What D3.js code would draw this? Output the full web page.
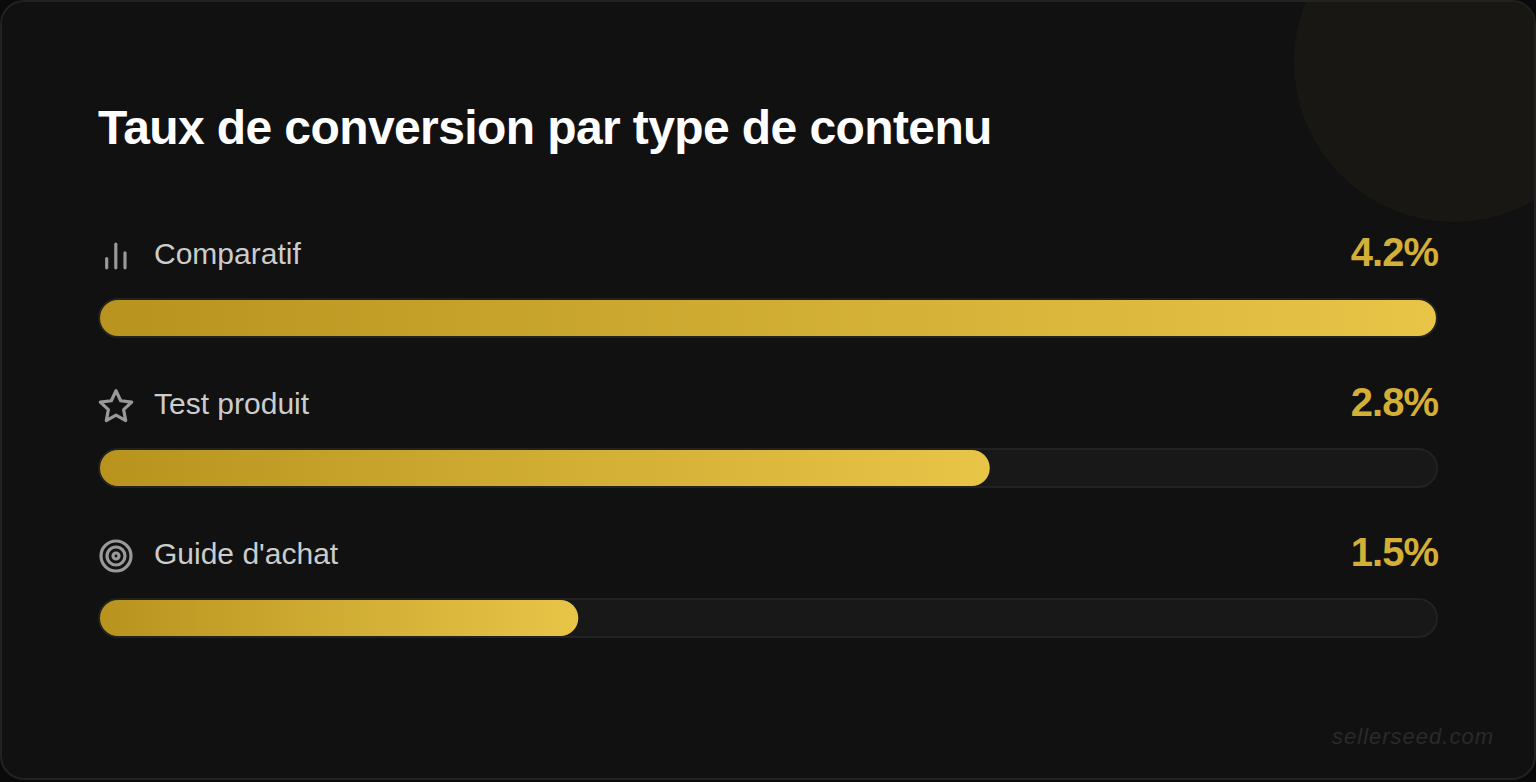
<!DOCTYPE html>
<html lang="fr">
<head>
<meta charset="utf-8">
<script src="https://cdn.jsdelivr.net/npm/d3@7"></script>
<style>
html,body{margin:0;padding:0;background:#0a0a0a;overflow:hidden}
svg{display:block}
text{font-family:"Liberation Sans",Arial,sans-serif}
</style>
</head>
<body>
<svg id="c" width="1536" height="782"></svg>
<script>
const titleText = "Taux de conversion par type de contenu";
const categories = ["Comparatif", "Test produit", "Guide d'achat"];
const valueLabels = ["4.2%", "2.8%", "1.5%"];
const fillPercents = [100, 66.6, 35.8];
const icons = ["bars", "star", "target"];
const watermark = "sellerseed.com";

const svg = d3.select("#c");
const defs = svg.append("defs");
const grad = defs.append("linearGradient").attr("id", "g").attr("x1", 0).attr("x2", 1).attr("y1", 0).attr("y2", 0);
grad.append("stop").attr("offset", "0%").attr("stop-color", "#b8941f");
grad.append("stop").attr("offset", "100%").attr("stop-color", "#e8c547");
defs.append("clipPath").attr("id", "card").append("rect")
  .attr("x", 2).attr("y", 2).attr("width", 1532).attr("height", 776).attr("rx", 22);

svg.append("rect").attr("x", 1).attr("y", 1).attr("width", 1534).attr("height", 778).attr("rx", 23)
  .attr("fill", "#111111").attr("stroke", "#222222").attr("stroke-width", 2);
svg.append("circle").attr("clip-path", "url(#card)").attr("cx", 1454).attr("cy", 62).attr("r", 160).attr("fill", "#181713");

svg.append("text").attr("x", 98).attr("y", 144).text(titleText)
  .attr("font-size", 48).attr("font-weight", 700).attr("letter-spacing", -0.6).attr("fill", "#ffffff");

const x = d3.scaleLinear().domain([0, 100]).range([0, 1336]);
const y = d3.scaleBand().domain(categories).range([226, 676]).paddingInner(0);

const rows = svg.selectAll("g.row").data(categories).join("g").attr("class", "row")
  .attr("transform", d => `translate(0,${y(d)})`);

rows.append("text").attr("x", 154).attr("y", 38).text(d => d)
  .attr("font-size", 30).attr("fill", "#cccccc");
rows.append("text").attr("x", 1438).attr("y", 40).attr("text-anchor", "end").text((d, i) => valueLabels[i])
  .attr("font-size", 40).attr("font-weight", 700).attr("letter-spacing", -1).attr("fill", "#d4af37");
rows.append("rect").attr("x", 99).attr("y", 73).attr("width", 1338).attr("height", 38).attr("rx", 19)
  .attr("fill", "#181818").attr("stroke", "#222222").attr("stroke-width", 2);
rows.append("rect").attr("x", 100).attr("y", 74).attr("height", 36).attr("rx", 18)
  .attr("width", (d, i) => x(fillPercents[i])).attr("fill", "url(#g)");

const ic = rows.append("g").attr("fill", "none").attr("stroke", "#999999").attr("stroke-width", 3.2).attr("stroke-linecap", "round").attr("stroke-linejoin", "round");
ic.each(function (d, i) {
  const g = d3.select(this);
  if (icons[i] === "bars") {
    [[106.7, 32.7, 41.8], [115.8, 18.2, 41.8], [125, 26.8, 41.8]].forEach(l => g.append("line")
      .attr("x1", l[0]).attr("x2", l[0]).attr("y1", l[1]).attr("y2", l[2]));
  } else if (icons[i] === "star") {
    const pts = d3.range(10).map(k => {
      const r = k % 2 ? 8 : 16.5, a = -Math.PI / 2 + k * Math.PI / 5;
      return [116 + r * Math.cos(a), 31.2 + r * Math.sin(a)];
    });
    g.append("path").attr("d", d3.line()(pts) + "Z");
  } else {
    [15, 9, 3].forEach(r => g.append("circle").attr("cx", 116).attr("cy", 30).attr("r", r));
  }
});

svg.append("text").attr("x", 1494).attr("y", 744).attr("text-anchor", "end").text(watermark)
  .attr("font-size", 22).attr("font-style", "italic").attr("letter-spacing", 1).attr("fill", "#2a2a2a");
</script>
</body>
</html>
